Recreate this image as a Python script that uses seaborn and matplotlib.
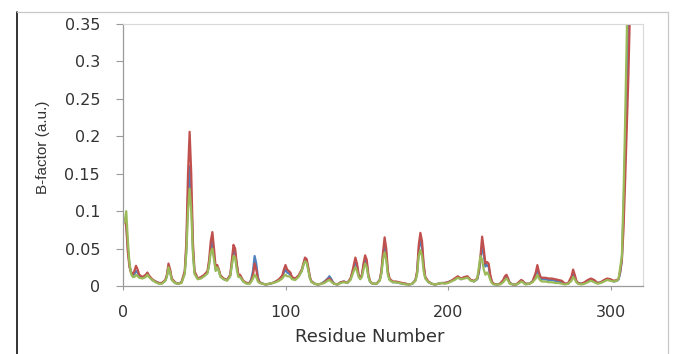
import matplotlib
matplotlib.use("Agg")
import matplotlib.pyplot as plt
from matplotlib.lines import Line2D
import seaborn as sns
import pandas as pd

# ---------------- data ----------------
residue = [
    1, 2, 3, 4, 5, 6, 7, 8, 9, 10,
    12, 14, 15, 16, 18, 20, 22, 24, 26, 27,
    28, 29, 30, 32, 34, 36, 38, 39, 40, 41,
    42, 43, 44, 46, 48, 50, 52, 53, 54, 55,
    56, 57, 58, 59, 60, 62, 64, 66, 67, 68,
    69, 70, 71, 72, 74, 76, 78, 79, 80, 81,
    82, 83, 84, 86, 88, 90, 92, 94, 96, 98,
    99, 100, 101, 102, 103, 104, 106, 108, 110, 111,
    112, 113, 114, 115, 116, 118, 120, 122, 124, 126,
    127, 128, 129, 130, 132, 134, 136, 138, 140, 141,
    142, 143, 144, 145, 146, 147, 148, 149, 150, 151,
    152, 153, 154, 156, 158, 159, 160, 161, 162, 163,
    164, 166, 168, 170, 172, 174, 176, 178, 180, 181,
    182, 183, 184, 185, 186, 188, 190, 192, 194, 196,
    198, 200, 202, 204, 206, 208, 210, 212, 214, 216,
    218, 219, 220, 221, 222, 223, 224, 225, 226, 227,
    228, 230, 232, 234, 235, 236, 237, 238, 240, 242,
    244, 245, 246, 247, 248, 250, 252, 254, 255, 256,
    257, 258, 260, 262, 264, 266, 268, 270, 272, 274,
    276, 277, 278, 279, 280, 282, 284, 286, 288, 290,
    292, 294, 296, 298, 300, 302, 304, 305, 306, 307,
    308, 309, 310, 311, 312,
]

bfactor_blue = [
    .088, .085, .050, .028, .018, .014, .016, .020, .018, .013,
    .011, .014, .017, .013, .008, .006, .004, .004, .007, .013,
    .026, .020, .009, .004, .003, .005, .018, .050, .120, .160,
    .120, .050, .018, .010, .011, .014, .018, .030, .050, .060,
    .040, .022, .026, .020, .013, .009, .008, .014, .030, .048,
    .045, .028, .014, .014, .006, .004, .004, .010, .020, .040,
    .030, .012, .005, .003, .002, .003, .004, .006, .008, .012,
    .018, .022, .018, .017, .015, .011, .009, .013, .020, .028,
    .036, .034, .023, .011, .006, .003, .002, .003, .006, .010,
    .013, .010, .006, .003, .002, .005, .006, .004, .009, .016,
    .024, .033, .026, .014, .010, .014, .026, .036, .030, .013,
    .006, .004, .003, .003, .008, .018, .040, .055, .042, .018,
    .009, .005, .005, .004, .003, .003, .002, .003, .008, .018,
    .048, .062, .052, .026, .011, .005, .003, .002, .003, .004,
    .004, .005, .007, .009, .012, .009, .011, .012, .008, .006,
    .009, .018, .035, .055, .042, .026, .028, .026, .013, .005,
    .003, .002, .003, .007, .011, .013, .009, .004, .002, .002,
    .005, .007, .006, .004, .003, .003, .006, .015, .022, .015,
    .010, .009, .009, .008, .008, .007, .006, .005, .003, .003,
    .010, .017, .012, .006, .004, .003, .004, .007, .009, .007,
    .004, .005, .007, .009, .008, .006, .007, .009, .018, .035,
    .100, .180, .280, .380, .450,
]

bfactor_red = [
    .090, .080, .045, .025, .018, .016, .020, .027, .022, .015,
    .012, .015, .018, .014, .009, .006, .004, .004, .008, .015,
    .030, .022, .010, .005, .003, .005, .020, .060, .150, .206,
    .150, .060, .020, .010, .012, .015, .020, .035, .060, .072,
    .050, .025, .028, .022, .014, .010, .008, .015, .035, .055,
    .050, .030, .015, .015, .007, .004, .004, .008, .015, .030,
    .022, .010, .005, .003, .002, .003, .004, .006, .009, .014,
    .022, .028, .022, .020, .018, .012, .010, .014, .022, .030,
    .038, .036, .025, .012, .006, .003, .002, .003, .005, .009,
    .010, .008, .005, .003, .002, .005, .006, .004, .010, .018,
    .028, .038, .030, .015, .010, .015, .030, .041, .035, .015,
    .007, .004, .003, .003, .008, .020, .045, .065, .050, .020,
    .010, .006, .006, .005, .004, .003, .002, .003, .008, .020,
    .055, .071, .060, .030, .012, .006, .003, .002, .003, .004,
    .004, .005, .007, .010, .013, .010, .012, .013, .008, .007,
    .010, .020, .040, .066, .050, .030, .032, .030, .015, .006,
    .003, .002, .003, .008, .013, .015, .010, .004, .002, .002,
    .006, .008, .007, .004, .003, .003, .006, .018, .028, .018,
    .012, .011, .011, .010, .010, .009, .008, .007, .003, .004,
    .013, .022, .015, .007, .004, .003, .005, .008, .010, .008,
    .004, .005, .008, .010, .009, .007, .008, .010, .020, .035,
    .075, .140, .210, .280, .370,
]

bfactor_green = [
    .085, .100, .060, .030, .016, .012, .012, .015, .013, .011,
    .010, .012, .015, .012, .008, .005, .003, .003, .007, .012,
    .025, .018, .008, .004, .003, .004, .016, .045, .100, .130,
    .100, .045, .016, .009, .010, .013, .017, .028, .045, .050,
    .035, .020, .025, .020, .012, .009, .007, .013, .028, .040,
    .038, .022, .012, .012, .006, .003, .003, .006, .010, .015,
    .012, .006, .004, .003, .002, .003, .004, .005, .007, .010,
    .013, .015, .013, .013, .012, .009, .008, .012, .020, .028,
    .033, .031, .021, .010, .005, .003, .002, .003, .004, .007,
    .008, .006, .004, .003, .002, .004, .005, .004, .008, .014,
    .020, .025, .020, .012, .009, .012, .022, .030, .025, .012,
    .006, .004, .003, .003, .007, .016, .035, .045, .035, .015,
    .008, .005, .005, .004, .003, .002, .002, .003, .007, .016,
    .040, .048, .040, .020, .010, .005, .003, .002, .003, .004,
    .003, .004, .006, .008, .011, .009, .010, .011, .007, .006,
    .010, .025, .040, .035, .022, .015, .018, .015, .008, .004,
    .002, .002, .002, .005, .008, .010, .007, .003, .002, .002,
    .004, .006, .005, .003, .002, .003, .005, .010, .015, .010,
    .007, .006, .006, .005, .005, .004, .004, .003, .002, .003,
    .007, .012, .009, .005, .003, .002, .003, .005, .007, .005,
    .003, .004, .006, .008, .007, .006, .007, .010, .025, .040,
    .120, .220, .330, .450, .500,
]

series_names = ["Series 1", "Series 2", "Series 3"]
series_colors = ["#4F81BD", "#C0504D", "#9BBB59"]
x_ticks = [0, 100, 200, 300]
y_ticks = [0, 0.05, 0.1, 0.15, 0.2, 0.25, 0.3, 0.35]
y_tick_labels = ["0", "0.05", "0.1", "0.15", "0.2", "0.25", "0.3", "0.35"]

# ---------------- build long-form table ----------------
frames = []
for name, vals in zip(series_names, [bfactor_blue, bfactor_red, bfactor_green]):
    frames.append(pd.DataFrame({"Residue": residue, "B": vals, "Series": name}))
df = pd.concat(frames, ignore_index=True)

sns.set_theme(style="white")
plt.rcParams["font.family"] = ["DejaVu Sans"]

fig = plt.figure(figsize=(6.74, 3.54), dpi=100)
ax = fig.add_axes([123 / 674, 1 - 286 / 354, 520 / 674, 262 / 354])

sns.lineplot(data=df, x="Residue", y="B", hue="Series",
             hue_order=series_names, palette=series_colors,
             estimator=None, sort=False, linewidth=1.6, legend=False, ax=ax)

ax.set_xlim(0, 320)
ax.set_ylim(0, 0.35)
ax.set_xticks(x_ticks)
ax.set_yticks(y_ticks)
ax.set_yticklabels(y_tick_labels)

for side in ["top", "right"]:
    ax.spines[side].set_color("#D9D9D9")
    ax.spines[side].set_linewidth(0.8)
for side in ["left", "bottom"]:
    ax.spines[side].set_color("#9A9A9A")
    ax.spines[side].set_linewidth(0.9)

ax.tick_params(axis="y", direction="out", length=5, width=0.8, color="#9A9A9A",
               pad=11.5, labelsize=11.5, labelcolor="#333333", left=True)
ax.tick_params(axis="x", direction="out", length=3, width=0.8, color="#9A9A9A",
               pad=11, labelsize=11.5, labelcolor="#333333", bottom=True)

ax.set_xlabel("Residue Number", fontsize=13, color="#333333")
ax.set_ylabel("B-factor (a.u.)", fontsize=11, color="#333333",
              family=["Liberation Sans"])
ax.xaxis.set_label_coords(0.475, -0.16)
ax.yaxis.set_label_coords(-0.14, 0.53)

# outer chart frame
fig.add_artist(Line2D([17 / 674, 17 / 674], [0, 1 - 12 / 354],
                      transform=fig.transFigure, color="#111111", linewidth=1.2))
fig.add_artist(Line2D([17 / 674, 668 / 674], [1 - 12 / 354, 1 - 12 / 354],
                      transform=fig.transFigure, color="#C8C8C8", linewidth=0.9))
fig.add_artist(Line2D([668 / 674, 668 / 674], [0, 1 - 12 / 354],
                      transform=fig.transFigure, color="#C8C8C8", linewidth=0.9))

fig.savefig("out.png", dpi=100)
